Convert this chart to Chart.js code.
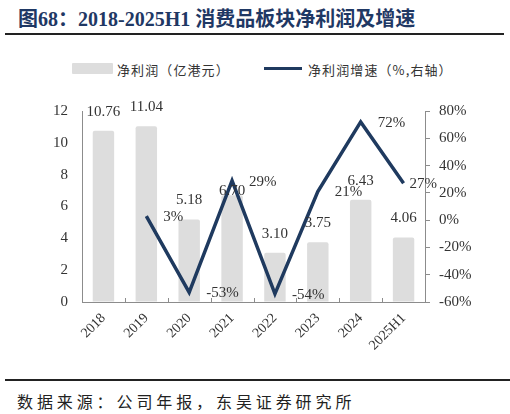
<!DOCTYPE html>
<html>
<head>
<meta charset="utf-8">
<script src="https://cdn.jsdelivr.net/npm/chart.js@4/dist/chart.umd.min.js"></script>
<style>
  body { margin: 0; width: 510px; height: 414px; background: #fff; position: relative; overflow: hidden; }
  .title { position: absolute; left: 18px; top: 3px; font: bold 20px "Liberation Serif", "Noto Sans CJK SC", serif; color: #1f3864; white-space: nowrap; }
  .rule { position: absolute; left: 5px; width: 499px; height: 2px; background: #222; }
  .legend { position: absolute; top: 60px; font: 13px "Noto Sans CJK SC", sans-serif; color: #333; letter-spacing: 1.1px; white-space: nowrap; }
  .source { position: absolute; left: 17px; top: 389px; font: 16px "Noto Sans CJK SC", sans-serif; color: #222; letter-spacing: 3.9px; white-space: nowrap; }
  #wrap { position: absolute; left: 0; top: 88px; width: 510px; height: 282px; }
</style>
</head>
<body>
<div class="title">图68：2018-2025H1 消费品板块净利润及增速</div>
<div class="rule" style="top:33px"></div>

<div style="position:absolute;left:72px;top:63px;width:41px;height:11px;background:#dddddd;border-radius:1px"></div>
<div class="legend" style="left:117px">净利润（亿港元）</div>
<div style="position:absolute;left:264px;top:67px;width:38px;height:3px;background:#1f3a5f"></div>
<div class="legend" style="left:308px">净利润增速（%,右轴）</div>

<div id="wrap"><canvas id="chart"></canvas></div>

<div class="rule" style="top:379px;width:505px"></div>
<div class="source">数据来源：公司年报，东吴证券研究所</div>

<script>
const categories = ['2018', '2019', '2020', '2021', '2022', '2023', '2024', '2025H1'];
const netProfit = [10.76, 11.04, 5.18, 6.70, 3.10, 3.75, 6.43, 4.06];   // 亿港元
const profitGrowth = [null, 3, -53, 29, -54, 21, 72, 27];                // %

const serif = '"Liberation Serif", "Times New Roman", serif';
const axisGray = '#8c8c8c';

// value labels above bars and to the right of line points
const labelPlugin = {
    id: 'valueLabels',
    afterDatasetsDraw(chart) {
        const ctx = chart.ctx;
        ctx.save();
        ctx.font = '15px ' + serif;
        ctx.fillStyle = '#333';

        const bars = chart.getDatasetMeta(0).data;
        ctx.textAlign = 'center';
        ctx.textBaseline = 'middle';
        bars.forEach((bar, i) => {
            const lift = i === 3 ? 4 : 19;
            ctx.fillText(netProfit[i].toFixed(2), bar.x, bar.y - lift);
        });

        const pts = chart.getDatasetMeta(1).data;
        ctx.textAlign = 'left';
        pts.forEach((pt, i) => {
            if (profitGrowth[i] === null) return;
            const dx = i === pts.length - 1 ? 6 : 17;
            ctx.fillText(profitGrowth[i] + '%', pt.x + dx, pt.y + 1);
        });
        ctx.restore();
    }
};

// small tick marks on the category axis, pointing up into the plot
const innerTicks = {
    id: 'innerTicks',
    afterDraw(chart) {
        const x = chart.scales.x;
        const ctx = chart.ctx;
        const n = categories.length;
        ctx.save();
        ctx.strokeStyle = axisGray;
        ctx.lineWidth = 1;
        ctx.beginPath();
        for (let i = 1; i < n; i++) {
            const px = Math.round(x.left + i * (x.right - x.left) / n) + 0.5;
            ctx.moveTo(px, x.top);
            ctx.lineTo(px, x.top - 4);
        }
        ctx.stroke();
        ctx.restore();
    }
};

new Chart(document.getElementById('chart'), {
    data: {
        labels: categories,
        datasets: [{
            type: 'bar',
            label: '净利润（亿港元）',
            data: netProfit,
            backgroundColor: '#dddddd',
            borderRadius: 2,
            borderSkipped: 'bottom',
            barPercentage: 0.5,
            categoryPercentage: 1,
            yAxisID: 'y',
            order: 1
        }, {
            type: 'line',
            label: '净利润增速（%,右轴）',
            data: profitGrowth,
            borderColor: '#1f3a5f',
            borderWidth: 3.5,
            pointRadius: 0,
            tension: 0,
            yAxisID: 'y1',
            order: 0
        }]
    },
    options: {
        responsive: true,
        maintainAspectRatio: false,
        animation: false,
        layout: { padding: { top: 14 } },
        plugins: {
            legend: { display: false },
            tooltip: { enabled: false }
        },
        scales: {
            x: {
                grid: { display: true, drawOnChartArea: false, drawTicks: false },
                border: { display: true, color: axisGray },
                ticks: {
                    color: '#333',
                    font: { family: serif, size: 14 },
                    minRotation: 45,
                    maxRotation: 45,
                    padding: 8
                },
                afterFit: scale => { scale.height = 68; }
            },
            y: {
                position: 'left',
                min: 0,
                max: 12,
                grid: { display: true, drawOnChartArea: false, drawTicks: false },
                border: { display: true, color: axisGray },
                ticks: {
                    stepSize: 2,
                    color: '#333',
                    font: { family: serif, size: 15 },
                    padding: 14
                },
                afterFit: scale => { scale.width = 82; }
            },
            y1: {
                position: 'right',
                min: -60,
                max: 80,
                grid: { display: true, drawOnChartArea: false, drawTicks: true, tickLength: 5, color: axisGray },
                border: { display: true, color: axisGray },
                ticks: {
                    stepSize: 20,
                    color: '#333',
                    font: { family: serif, size: 15 },
                    padding: 9,
                    callback: v => v + '%'
                },
                afterFit: scale => { scale.width = 85; }
            }
        }
    },
    plugins: [labelPlugin, innerTicks]
});
</script>
</body>
</html>
